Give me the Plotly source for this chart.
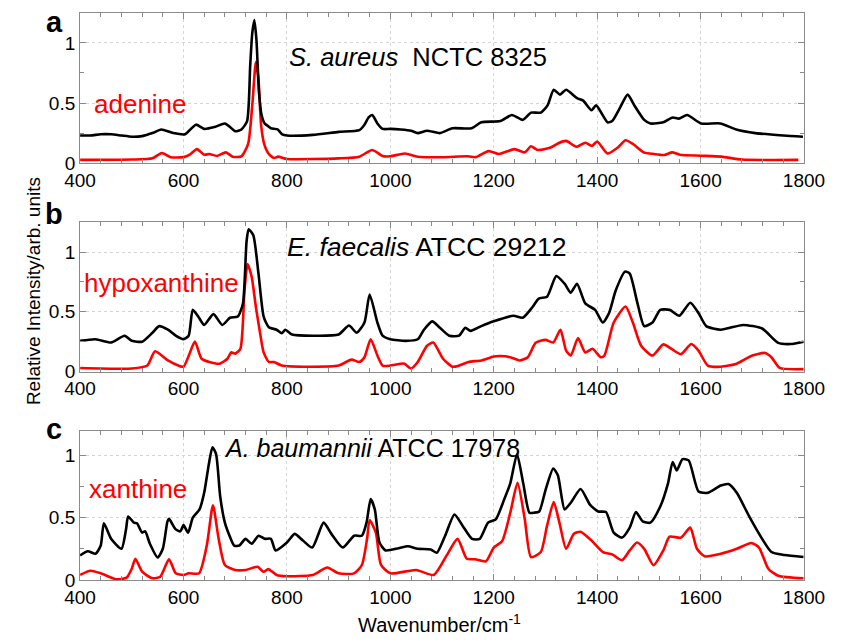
import plotly.graph_objects as go

# ---------------- data ----------------
A_CELL_WN = [400, 420, 440, 460, 480, 500, 520, 540, 557, 580, 603, 624, 640, 660, 680, 690, 700, 712,
             723, 729, 733, 737, 741, 746, 751, 757, 763, 769, 782, 791, 800, 850, 900, 940, 950, 958,
             965, 975, 985, 1000, 1020, 1040, 1053, 1071, 1096, 1120, 1157, 1176, 1213, 1235, 1256,
             1272, 1291, 1304, 1316, 1328, 1340, 1361, 1373, 1389, 1398, 1420, 1429, 1444, 1459, 1472,
             1491, 1503, 1528, 1546, 1558, 1574, 1601, 1638, 1669, 1706, 1761, 1798]
A_CELL = [0.23, 0.23, 0.24, 0.24, 0.23, 0.22, 0.225, 0.25, 0.28, 0.25, 0.24, 0.32, 0.285, 0.30, 0.33,
          0.30, 0.265, 0.28, 0.35, 0.81, 1.08, 1.19, 1.03, 0.59, 0.40, 0.33, 0.31, 0.29, 0.28, 0.24,
          0.23, 0.235, 0.26, 0.275, 0.32, 0.38, 0.40, 0.33, 0.285, 0.285, 0.28, 0.27, 0.25, 0.27,
          0.25, 0.29, 0.29, 0.34, 0.35, 0.40, 0.36, 0.42, 0.42, 0.48, 0.61, 0.57, 0.61, 0.54, 0.52,
          0.44, 0.48, 0.34, 0.35, 0.46, 0.57, 0.48, 0.36, 0.33, 0.34, 0.38, 0.37, 0.40, 0.33, 0.33,
          0.28, 0.25, 0.23, 0.22]

A_REF_WN = [400, 500, 540, 558, 575, 600, 612, 626, 640, 650, 665, 682, 695, 712, 725, 733, 740, 745,
            750, 756, 765, 775, 783, 800, 900, 940, 965, 985, 1000, 1028, 1053, 1100, 1150, 1165, 1190,
            1210, 1240, 1260, 1272, 1285, 1310, 1325, 1340, 1360, 1377, 1390, 1400, 1420, 1440, 1455,
            1470, 1490, 1510, 1530, 1545, 1560, 1600, 1640, 1680, 1789]
A_REF = [0.027, 0.03, 0.04, 0.085, 0.05, 0.05, 0.07, 0.117, 0.07, 0.076, 0.06, 0.09, 0.054, 0.057,
         0.16, 0.48, 0.84, 0.70, 0.32, 0.16, 0.076, 0.043, 0.054, 0.035, 0.04, 0.054, 0.11, 0.06,
         0.057, 0.08, 0.054, 0.049, 0.057, 0.05, 0.10, 0.076, 0.117, 0.09, 0.14, 0.11, 0.13, 0.166,
         0.185, 0.136, 0.17, 0.144, 0.18, 0.08, 0.13, 0.19, 0.157, 0.09, 0.076, 0.068, 0.09, 0.07,
         0.062, 0.054, 0.03, 0.027]

B_CELL_WN = [400, 430, 460, 486, 500, 520, 540, 553, 570, 585, 600, 610, 618, 630, 640, 658, 675, 690,
             705, 715, 722, 726, 735, 745, 755, 765, 780, 790, 797, 810, 850, 900, 920, 935, 950, 960,
             975, 985, 1000, 1030, 1053, 1065, 1081, 1096, 1114, 1133, 1145, 1155, 1176, 1200, 1238,
             1256, 1275, 1287, 1303, 1321, 1337, 1349, 1361, 1377, 1396, 1411, 1423, 1436, 1454, 1463,
             1478, 1491, 1507, 1522, 1540, 1559, 1580, 1596, 1611, 1639, 1682, 1719, 1750, 1774, 1799]
B_CELL = [0.257, 0.27, 0.243, 0.30, 0.257, 0.25, 0.325, 0.38, 0.35, 0.30, 0.27, 0.30, 0.516, 0.45,
          0.39, 0.48, 0.39, 0.45, 0.46, 0.57, 1.09, 1.19, 1.14, 0.82, 0.46, 0.37, 0.35, 0.32, 0.35,
          0.31, 0.30, 0.31, 0.385, 0.325, 0.41, 0.645, 0.41, 0.30, 0.27, 0.257, 0.27, 0.35, 0.42,
          0.366, 0.30, 0.30, 0.366, 0.34, 0.38, 0.42, 0.467, 0.45, 0.54, 0.61, 0.626, 0.80, 0.735,
          0.66, 0.735, 0.57, 0.516, 0.41, 0.49, 0.68, 0.836, 0.82, 0.57, 0.38, 0.41, 0.516, 0.516,
          0.467, 0.576, 0.49, 0.38, 0.35, 0.39, 0.36, 0.24, 0.23, 0.25]

B_REF_WN = [400, 500, 530, 545, 570, 590, 600, 610, 622, 635, 650, 670, 685, 692, 700, 710, 718, 724,
            732, 740, 748, 755, 765, 775, 790, 850, 900, 925, 940, 950, 962, 975, 985, 1000, 1027,
            1040, 1053, 1071, 1083, 1102, 1120, 1133, 1151, 1176, 1200, 1213, 1232, 1250, 1266, 1281,
            1300, 1315, 1329, 1340, 1349, 1363, 1377, 1391, 1407, 1414, 1432, 1455, 1469, 1485, 1507,
            1528, 1546, 1562, 1582, 1596, 1614, 1639, 1670, 1700, 1725, 1737, 1753, 1799]
B_REF = [0.03, 0.025, 0.05, 0.17, 0.093, 0.05, 0.04, 0.13, 0.25, 0.107, 0.08, 0.066, 0.107, 0.16,
         0.15, 0.19, 0.68, 0.90, 0.79, 0.54, 0.325, 0.16, 0.08, 0.08, 0.05, 0.04, 0.05, 0.10, 0.08,
         0.12, 0.27, 0.134, 0.05, 0.05, 0.066, 0.025, 0.08, 0.216, 0.243, 0.107, 0.04, 0.05, 0.08,
         0.093, 0.126, 0.13, 0.12, 0.093, 0.12, 0.24, 0.265, 0.243, 0.35, 0.175, 0.134, 0.28, 0.16,
         0.19, 0.12, 0.134, 0.41, 0.544, 0.41, 0.216, 0.134, 0.227, 0.183, 0.145, 0.23, 0.175, 0.05,
         0.04, 0.066, 0.134, 0.156, 0.12, 0.03, 0.02]

C_CELL_WN = [400, 415, 430, 440, 446, 460, 480, 489, 493, 504, 510, 520, 526, 535, 550, 560, 569, 572,
             584, 594, 600, 609, 618, 631, 640, 649, 656, 663, 671, 680, 689, 698, 708, 720, 732, 745,
             757, 769, 778, 800, 815, 831, 849, 871, 886, 908, 930, 945, 954, 962, 970, 979, 991, 1016,
             1034, 1053, 1078, 1090, 1106, 1124, 1140, 1158, 1173, 1189, 1204, 1220, 1232, 1245, 1257,
             1269, 1278, 1288, 1300, 1315, 1324, 1337, 1349, 1368, 1386, 1402, 1417, 1432, 1448, 1463,
             1475, 1488, 1503, 1522, 1537, 1546, 1554, 1565, 1577, 1596, 1614, 1639, 1654, 1670, 1694,
             1719, 1737, 1762, 1799]
C_CELL = [0.197, 0.23, 0.21, 0.276, 0.455, 0.33, 0.25, 0.41, 0.51, 0.46, 0.455, 0.38, 0.39, 0.29,
          0.18, 0.25, 0.47, 0.49, 0.41, 0.39, 0.44, 0.38, 0.50, 0.566, 0.70, 0.93, 1.065, 1.01, 0.67,
          0.46, 0.355, 0.276, 0.276, 0.33, 0.29, 0.355, 0.33, 0.33, 0.237, 0.30, 0.37, 0.316, 0.26,
          0.46, 0.37, 0.26, 0.355, 0.355, 0.46, 0.65, 0.566, 0.30, 0.237, 0.255, 0.27, 0.25, 0.245,
          0.218, 0.355, 0.526, 0.434, 0.33, 0.33, 0.46, 0.487, 0.645, 0.776, 1.01, 0.776, 0.54, 0.54,
          0.55, 0.72, 0.895, 0.84, 0.566, 0.62, 0.73, 0.605, 0.55, 0.545, 0.38, 0.34, 0.42, 0.545,
          0.47, 0.46, 0.59, 0.776, 0.947, 0.88, 0.97, 0.96, 0.71, 0.70, 0.758, 0.77, 0.70, 0.51,
          0.33, 0.224, 0.20, 0.184]

C_REF_WN = [400, 420, 440, 470, 490, 500, 507, 520, 540, 555, 572, 585, 600, 610, 630, 645, 657, 668,
            680, 700, 720, 743, 755, 764, 780, 800, 850, 878, 900, 930, 945, 955, 960, 972, 982, 1000,
            1050, 1084, 1109, 1130, 1148, 1164, 1185, 1200, 1216, 1232, 1246, 1260, 1272, 1291, 1303,
            1316, 1327, 1340, 1355, 1368, 1389, 1411, 1429, 1448, 1463, 1477, 1491, 1509, 1528, 1540,
            1562, 1580, 1593, 1608, 1639, 1670, 1698, 1713, 1731, 1750, 1799]
C_REF = [0.04, 0.074, 0.053, 0.005, 0.018, 0.09, 0.17, 0.066, 0.013, 0.026, 0.166, 0.053, 0.04,
         0.053, 0.053, 0.276, 0.60, 0.33, 0.12, 0.08, 0.08, 0.105, 0.066, 0.087, 0.04, 0.03, 0.04,
         0.10, 0.053, 0.053, 0.12, 0.33, 0.48, 0.38, 0.12, 0.053, 0.08, 0.04, 0.197, 0.33, 0.17,
         0.166, 0.15, 0.26, 0.31, 0.54, 0.78, 0.487, 0.184, 0.224, 0.434, 0.626, 0.46, 0.25, 0.37,
         0.387, 0.316, 0.224, 0.205, 0.158, 0.237, 0.30, 0.25, 0.118, 0.237, 0.347, 0.34, 0.42, 0.25,
         0.19, 0.21, 0.25, 0.297, 0.26, 0.09, 0.034, 0.013]

PANEL_LETTERS = ["a", "b", "c"]
SPECIES = ["<i>S. aureus</i>  NCTC 8325", "<i>E. faecalis</i> ATCC 29212", "<i>A. baumannii</i> ATCC 17978"]
COMPOUNDS = ["adenine", "hypoxanthine", "xanthine"]
X_TITLE = "Wavenumber/cm<sup>-1</sup>"
Y_TITLE = "Relative Intensity/arb. units"

# ---------------- figure ----------------
W, H = 847, 644
FONT = "Liberation Sans, Arial, Helvetica, sans-serif"
FRAME = "#8a8a8a"
GRID = "#d4d4d4"


def px(x):
    return x / W


def py(y):
    return 1 - y / H


# panel pixel extents (top, bottom) and y ranges
PANELS = [(13, 166, 1.25), (226, 378, 1.25), (438, 590, 1.2)]
X_LEFT, X_RIGHT = 67, 824

series = [(A_CELL_WN, A_CELL, A_REF_WN, A_REF),
          (B_CELL_WN, B_CELL, B_REF_WN, B_REF),
          (C_CELL_WN, C_CELL, C_REF_WN, C_REF)]

fig = go.Figure()
layout = dict(
    width=W, height=H, margin=dict(l=0, r=0, t=0, b=0),
    paper_bgcolor="white", plot_bgcolor="white", showlegend=False,
    font=dict(family=FONT, color="black"),
)

for i, ((xw, yc, xr, yr), (top, bot, ymax)) in enumerate(zip(series, PANELS)):
    n = "" if i == 0 else str(i + 1)
    fig.add_trace(go.Scatter(x=xr, y=yr, mode="lines", xaxis="x" + n, yaxis="y" + n,
                             line=dict(color="#ff0000", width=2.6, shape="spline", smoothing=0.6)))
    fig.add_trace(go.Scatter(x=xw, y=yc, mode="lines", xaxis="x" + n, yaxis="y" + n,
                             line=dict(color="black", width=2.6, shape="spline", smoothing=0.6)))
    common = dict(showline=True, linecolor=FRAME, linewidth=1, mirror="ticks",
                  ticks="inside", tickcolor=FRAME, ticklen=6, tickwidth=1,
                  showgrid=True, gridcolor=GRID, griddash="dot", gridwidth=1,
                  zeroline=False, tickfont=dict(family=FONT, size=19, color="black"))
    layout["xaxis" + n] = dict(common, domain=[px(X_LEFT), px(X_RIGHT)], range=[400, 1800],
                               tick0=400, dtick=200, anchor="y" + n,
                               minor=dict(dtick=40, tick0=400, ticks="inside", ticklen=4,
                                          tickcolor=FRAME, showgrid=False))
    layout["yaxis" + n] = dict(common, domain=[py(bot), py(top)], range=[0, ymax],
                               tick0=0, dtick=0.5, anchor="x" + n,
                               minor=dict(dtick=0.25, tick0=0, ticks="inside", ticklen=4,
                                          tickcolor=FRAME, showgrid=False))

ann = []
letter_pos = [(40, 22), (40, 218), (40, 436)]
species_pos = [(420, 58), (429, 251), (372, 456)]
species_size = [25.5, 26.5, 25]
compound_pos = [(130, 106), (152, 288), (128, 497)]
for i in range(3):
    ann.append(dict(text="<b>%s</b>" % PANEL_LETTERS[i], x=px(letter_pos[i][0]), y=py(letter_pos[i][1]),
                    xref="paper", yref="paper", showarrow=False, xanchor="center", yanchor="middle",
                    font=dict(size=29, color="black", family=FONT)))
    ann.append(dict(text=SPECIES[i], x=px(species_pos[i][0]), y=py(species_pos[i][1]),
                    xref="paper", yref="paper", showarrow=False, xanchor="center", yanchor="middle",
                    font=dict(size=species_size[i], color="black", family=FONT)))
    ann.append(dict(text=COMPOUNDS[i], x=px(compound_pos[i][0]), y=py(compound_pos[i][1]),
                    xref="paper", yref="paper", showarrow=False, xanchor="center", yanchor="middle",
                    font=dict(size=26, color="#ff0000", family=FONT)))
ann.append(dict(text=X_TITLE, x=px(443), y=py(634), xref="paper", yref="paper", showarrow=False,
                xanchor="center", yanchor="middle", font=dict(size=20, color="black", family=FONT)))
ann.append(dict(text=Y_TITLE, x=px(19), y=py(296), xref="paper", yref="paper", showarrow=False,
                textangle=-90, xanchor="center", yanchor="middle",
                font=dict(size=19, color="black", family=FONT)))
layout["annotations"] = ann

fig.update_layout(layout)
fig.write_html("out.html")
